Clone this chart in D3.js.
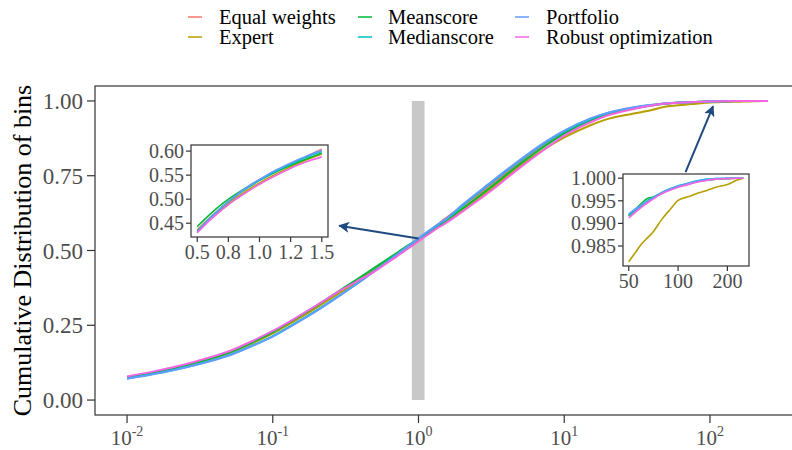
<!DOCTYPE html>
<html>
<head>
<meta charset="utf-8">
<script src="https://cdn.jsdelivr.net/npm/d3@7"></script>
<style>
  body { margin: 0; background: #fff; }
  svg { font-family: "Liberation Serif", "DejaVu Serif", serif; }
</style>
</head>
<body>
<svg id="chart" width="792" height="450"></svg>
<script>
// x grid shared by all series (bin size)
const binSizes = [0.01, 0.015, 0.02, 0.03, 0.05, 0.07, 0.1, 0.15, 0.2, 0.3, 0.4,
  0.5, 0.6, 0.7, 0.8, 0.9, 1.0, 1.1, 1.2, 1.3, 1.4, 1.5, 2, 3, 5, 7, 10, 15, 20, 30, 40,
  50, 55, 60, 65, 70, 80, 90, 100, 110, 120, 130, 150, 170, 200, 230, 250];

const seriesNames = ['Equal weights', 'Expert', 'Meanscore', 'Medianscore', 'Portfolio', 'Robust optimization'];
const seriesColors = ['#F8766D', '#B79F00', '#00BA38', '#00BFC4', '#619CFF', '#F564E3'];

const equalWeights = [0.077, 0.092, 0.105, 0.126, 0.158, 0.188, 0.225, 0.274, 0.311, 0.366, 0.404,
  0.436, 0.461, 0.484, 0.505, 0.523, 0.539, 0.553, 0.566, 0.579, 0.592, 0.604, 0.648, 0.712, 0.795, 0.846, 0.894, 0.936, 0.957, 0.976, 0.9858,
  0.9916, 0.9928, 0.9938, 0.9946, 0.9955, 0.9967, 0.9975, 0.9981, 0.9985, 0.9989, 0.9992, 0.9996, 0.9998, 0.9999, 1.0, 1.0];
const expert = [0.076, 0.091, 0.104, 0.125, 0.157, 0.187, 0.223, 0.272, 0.309, 0.364, 0.402,
  0.434, 0.459, 0.481, 0.501, 0.518, 0.534, 0.548, 0.561, 0.573, 0.584, 0.594, 0.636, 0.699, 0.783, 0.833, 0.878, 0.918, 0.940, 0.958, 0.970,
  0.9815, 0.9836, 0.9855, 0.9868, 0.9880, 0.9910, 0.9932, 0.9951, 0.9957, 0.9961, 0.9966, 0.9973, 0.9980, 0.9986, 0.9996, 1.0];
const meanscore = [0.075, 0.091, 0.104, 0.126, 0.159, 0.190, 0.227, 0.278, 0.316, 0.372, 0.411,
  0.443, 0.468, 0.490, 0.509, 0.525, 0.540, 0.553, 0.565, 0.576, 0.586, 0.596, 0.640, 0.705, 0.790, 0.842, 0.891, 0.934, 0.956, 0.975, 0.9855,
  0.9917, 0.9932, 0.9945, 0.9955, 0.9958, 0.9968, 0.9976, 0.9981, 0.9985, 0.9989, 0.9992, 0.9996, 0.9998, 0.9999, 1.0, 1.0];
const medianscore = [0.072, 0.087, 0.099, 0.119, 0.150, 0.179, 0.214, 0.263, 0.300, 0.356, 0.397,
  0.433, 0.460, 0.484, 0.505, 0.523, 0.539, 0.554, 0.567, 0.579, 0.590, 0.599, 0.650, 0.718, 0.801, 0.852, 0.898, 0.939, 0.960, 0.978, 0.9868,
  0.9918, 0.9930, 0.9940, 0.9950, 0.9957, 0.9969, 0.9977, 0.9983, 0.9987, 0.9991, 0.9994, 0.9998, 0.9999, 1.0, 1.0, 1.0];
const portfolio = [0.071, 0.086, 0.098, 0.118, 0.149, 0.178, 0.212, 0.261, 0.298, 0.355, 0.397,
  0.431, 0.459, 0.484, 0.506, 0.525, 0.541, 0.556, 0.569, 0.581, 0.592, 0.601, 0.653, 0.721, 0.804, 0.855, 0.901, 0.941, 0.961, 0.979, 0.9870,
  0.9921, 0.9932, 0.9941, 0.9949, 0.9956, 0.9968, 0.9976, 0.9982, 0.9986, 0.9990, 0.9993, 0.9997, 0.9999, 1.0, 1.0, 1.0];
const robust = [0.079, 0.095, 0.108, 0.130, 0.163, 0.194, 0.231, 0.280, 0.317, 0.370, 0.404,
  0.430, 0.456, 0.478, 0.498, 0.515, 0.531, 0.545, 0.558, 0.570, 0.580, 0.588, 0.630, 0.692, 0.778, 0.831, 0.884, 0.928, 0.952, 0.973, 0.9845,
  0.9912, 0.9925, 0.9936, 0.9945, 0.9953, 0.9966, 0.9974, 0.9980, 0.9984, 0.9988, 0.9991, 0.9995, 0.9998, 0.9999, 1.0, 1.0];

const seriesValues = [equalWeights, expert, meanscore, medianscore, portfolio, robust];

// axis ticks
const mainYTicks = [0, 0.25, 0.5, 0.75, 1];
const mainXTicks = [0.01, 0.1, 1, 10, 100];
const mainXExponents = ['-2', '-1', '0', '1', '2'];
const inset1XTicks = [0.5, 0.75, 1.0, 1.25, 1.5];
const inset1XLabels = ['0.5', '0.8', '1.0', '1.2', '1.5'];
const inset1YTicks = [0.45, 0.50, 0.55, 0.60];
const inset2XTicks = [50, 100, 200];
const inset2YTicks = [0.985, 0.990, 0.995, 1.000];

// highlighted band and arrows, in data coordinates
const bandX = [0.9, 1.1];
const arrowSegments = [
  { from: [1.0, 0.54], to: [0.286, 0.583] },
  { from: [68, 0.762], to: [105, 0.982] }
];

const series = seriesNames.map((name, i) => ({
  name, color: seriesColors[i],
  points: binSizes.map((x, j) => ({ x, y: seriesValues[i][j] }))
}));

const svg = d3.select('#chart');
const panel = { left: 95, right: 800, top: 86, bottom: 415 };

// ggplot-like 5% expansion on log x
const lo = Math.log10(d3.min(binSizes)), hi = Math.log10(d3.max(binSizes));
const pad = 0.05 * (hi - lo);
const xScale = d3.scaleLog().domain([10 ** (lo - pad), 10 ** (hi + pad)]).range([panel.left, panel.right]);
const yScale = d3.scaleLinear().domain([-0.05, 1.05]).range([panel.bottom, panel.top]);

const axisGrey = '#333333';
const textGrey = '#4D4D4D';
const arrowColor = '#1F4A80';

svg.append('defs').append('marker')
  .attr('id', 'arrowhead').attr('viewBox', '0 0 10 10')
  .attr('refX', 9).attr('refY', 5)
  .attr('markerWidth', 5.5).attr('markerHeight', 5.5)
  .attr('markerUnits', 'strokeWidth')
  .attr('orient', 'auto')
  .append('path').attr('d', 'M0,0 L10,5 L0,10 L2.5,5 Z').attr('fill', arrowColor);

// main panel
svg.append('rect')
  .attr('x', panel.left).attr('y', panel.top)
  .attr('width', panel.right - panel.left).attr('height', panel.bottom - panel.top)
  .attr('fill', '#fff').attr('stroke', axisGrey).attr('stroke-width', 1.2);

svg.append('rect')
  .attr('x', xScale(bandX[0])).attr('y', yScale(1))
  .attr('width', xScale(bandX[1]) - xScale(bandX[0]))
  .attr('height', yScale(0) - yScale(1))
  .attr('fill', '#C8C8C8');

const mainLine = d3.line().x(d => xScale(d.x)).y(d => yScale(d.y)).curve(d3.curveMonotoneX);
svg.append('g').selectAll('path').data(series).enter().append('path')
  .attr('d', d => mainLine(d.points))
  .attr('fill', 'none').attr('stroke', d => d.color).attr('stroke-width', 2);

// main y axis
const gy = svg.append('g');
gy.selectAll('line').data(mainYTicks).enter().append('line')
  .attr('x1', panel.left - 8).attr('x2', panel.left)
  .attr('y1', d => yScale(d)).attr('y2', d => yScale(d))
  .attr('stroke', axisGrey).attr('stroke-width', 1.2);
gy.selectAll('text').data(mainYTicks).enter().append('text')
  .attr('x', panel.left - 12).attr('y', d => yScale(d) + 8)
  .attr('text-anchor', 'end').attr('font-size', 23).attr('fill', textGrey)
  .text(d => d.toFixed(2));

// main x axis
const gx = svg.append('g');
gx.selectAll('line').data(mainXTicks).enter().append('line')
  .attr('x1', d => xScale(d)).attr('x2', d => xScale(d))
  .attr('y1', panel.bottom).attr('y2', panel.bottom + 8)
  .attr('stroke', axisGrey).attr('stroke-width', 1.2);
const xt = gx.selectAll('text').data(mainXTicks).enter().append('text')
  .attr('x', d => xScale(d)).attr('y', 445)
  .attr('text-anchor', 'middle').attr('fill', textGrey);
xt.append('tspan').attr('font-size', 21).text('10');
xt.append('tspan').attr('font-size', 14).attr('dy', -9).text((d, i) => mainXExponents[i]);

svg.append('text')
  .attr('transform', `translate(31, ${(panel.top + panel.bottom) / 2}) rotate(-90)`)
  .attr('text-anchor', 'middle').attr('font-size', 26).attr('fill', '#000')
  .text('Cumulative Distribution of bins');

// legend
const legendCols = [{ key: 188, text: 219 }, { key: 358, text: 388 }, { key: 515, text: 546 }];
const legendRows = [17, 37];
const lg = svg.append('g').selectAll('g').data(series).enter().append('g')
  .attr('transform', (d, i) => `translate(0, ${legendRows[i % 2]})`);
lg.append('line')
  .attr('x1', (d, i) => legendCols[Math.floor(i / 2)].key)
  .attr('x2', (d, i) => legendCols[Math.floor(i / 2)].key + 14)
  .attr('stroke', d => d.color).attr('stroke-width', 1.5);
lg.append('text')
  .attr('x', (d, i) => legendCols[Math.floor(i / 2)].text).attr('y', 6.5)
  .attr('font-size', 20.5).attr('fill', '#000')
  .text(d => d.name);

// insets
function drawInset(box, xType, xRange, xTicks, xLabels, yTicks, yFmt) {
  const pts = series.map(s => ({ ...s, points: s.points.filter(p => p.x >= xRange[0] && p.x <= xRange[1]) }));
  const ys = pts.flatMap(s => s.points.map(p => p.y));
  const yPad = 0.05 * (d3.max(ys) - d3.min(ys));
  let x;
  if (xType === 'log') {
    const a = Math.log10(xRange[0]), b = Math.log10(xRange[1]), p = 0.05 * (b - a);
    x = d3.scaleLog().domain([10 ** (a - p), 10 ** (b + p)]);
  } else {
    const p = 0.05 * (xRange[1] - xRange[0]);
    x = d3.scaleLinear().domain([xRange[0] - p, xRange[1] + p]);
  }
  x.range([box.left, box.left + box.width]);
  const y = d3.scaleLinear().domain([d3.min(ys) - yPad, d3.max(ys) + yPad]).range([box.top + box.height, box.top]);

  const g = svg.append('g');
  g.append('rect').attr('x', box.left).attr('y', box.top)
    .attr('width', box.width).attr('height', box.height)
    .attr('fill', '#fff').attr('stroke', axisGrey).attr('stroke-width', 1.2);
  const line = d3.line().x(d => x(d.x)).y(d => y(d.y)).curve(d3.curveMonotoneX);
  g.selectAll('path.s').data(pts).enter().append('path').attr('class', 's')
    .attr('d', d => line(d.points))
    .attr('fill', 'none').attr('stroke', d => d.color).attr('stroke-width', 1.6);

  g.selectAll('line.yt').data(yTicks).enter().append('line').attr('class', 'yt')
    .attr('x1', box.left - 5).attr('x2', box.left)
    .attr('y1', d => y(d)).attr('y2', d => y(d))
    .attr('stroke', axisGrey).attr('stroke-width', 1.2);
  g.selectAll('text.yt').data(yTicks).enter().append('text').attr('class', 'yt')
    .attr('x', box.left - 7).attr('y', d => y(d) + 7)
    .attr('text-anchor', 'end').attr('font-size', 20).attr('fill', textGrey)
    .text(yFmt);
  g.selectAll('line.xt').data(xTicks).enter().append('line').attr('class', 'xt')
    .attr('x1', d => x(d)).attr('x2', d => x(d))
    .attr('y1', box.top + box.height).attr('y2', box.top + box.height + 5)
    .attr('stroke', axisGrey).attr('stroke-width', 1.2);
  g.selectAll('text.xt').data(xTicks).enter().append('text').attr('class', 'xt')
    .attr('x', d => x(d)).attr('y', box.top + box.height + 22)
    .attr('text-anchor', 'middle').attr('font-size', 20).attr('fill', textGrey)
    .text((d, i) => xLabels[i]);
}

drawInset({ left: 191, top: 145, width: 137, height: 92 }, 'linear', [0.5, 1.5],
  inset1XTicks, inset1XLabels, inset1YTicks, d => d.toFixed(2));
drawInset({ left: 623, top: 174, width: 126, height: 92 }, 'log', [50, 250],
  inset2XTicks, inset2XTicks.map(String), inset2YTicks, d => d.toFixed(3));

// arrows
svg.append('g').selectAll('line').data(arrowSegments).enter().append('line')
  .attr('x1', d => xScale(d.from[0])).attr('y1', d => yScale(d.from[1]))
  .attr('x2', d => xScale(d.to[0])).attr('y2', d => yScale(d.to[1]))
  .attr('stroke', arrowColor).attr('stroke-width', 2)
  .attr('marker-end', 'url(#arrowhead)');
</script>
</body>
</html>
